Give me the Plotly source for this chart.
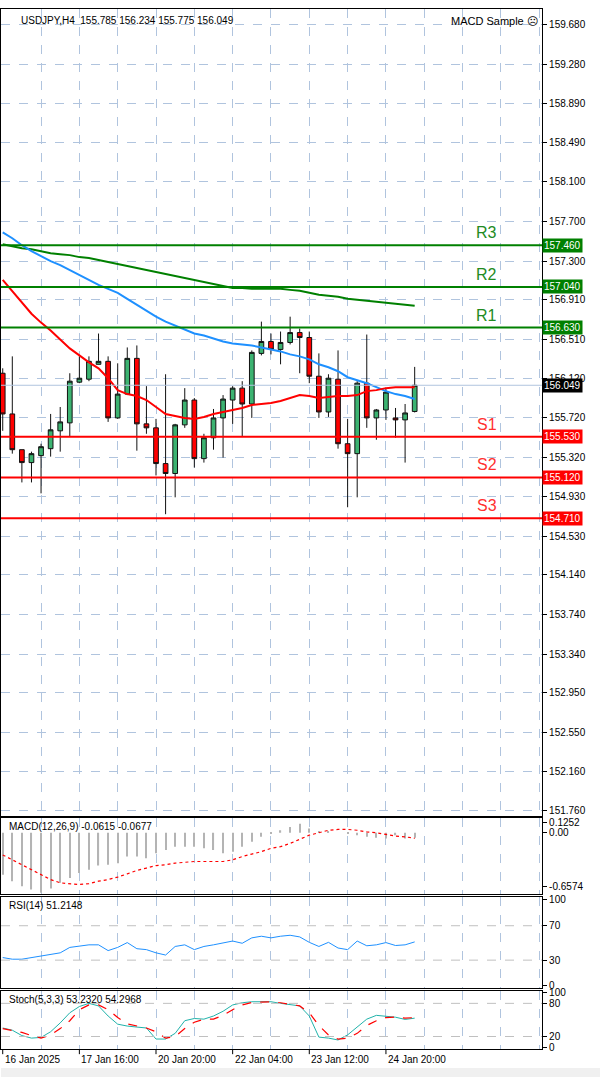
import plotly.graph_objects as go

# ---- data (H4 candles, oldest first) ----
opens = [156.17, 155.76, 155.40, 155.27, 155.34, 155.41, 155.59, 155.67, 156.08, 156.11,
         156.26, 156.29, 155.72, 155.96, 156.32, 155.66, 155.62, 155.26, 155.16, 155.65,
         155.90, 155.31, 155.52, 155.72, 155.90, 156.02, 155.86, 156.37, 156.49, 156.41,
         156.48, 156.58, 156.53, 156.14, 155.78, 156.11, 155.46, 155.36, 156.07, 155.72,
         155.80, 155.72, 155.70, 155.785]
highs = [156.22, 156.34, 155.40, 155.38, 155.46, 155.76, 155.83, 156.17, 156.34, 156.34,
         156.57, 156.34, 156.27, 156.43, 156.45, 156.04, 155.71, 156.16, 155.66, 156.02,
         155.92, 155.56, 155.81, 155.95, 156.04, 156.09, 156.40, 156.69, 156.57, 156.59,
         156.74, 156.62, 156.59, 156.37, 156.16, 156.40, 155.71, 156.09, 156.56, 155.81,
         156.01, 155.82, 155.86, 156.234]
lows = [155.59, 155.36, 155.07, 155.07, 154.96, 155.33, 155.38, 155.53, 156.07, 156.09,
        156.26, 155.68, 155.71, 155.95, 155.39, 155.56, 155.14, 154.75, 154.92, 155.62,
        155.22, 155.27, 155.40, 155.32, 155.66, 155.53, 155.72, 156.35, 156.36, 156.26,
        156.46, 156.17, 156.07, 155.72, 155.73, 155.41, 154.82, 154.92, 155.62, 155.50,
        155.70, 155.52, 155.27, 155.775]
closes = [155.76, 155.40, 155.27, 155.36, 155.43, 155.60, 155.68, 156.09, 156.12, 156.29,
          156.29, 155.72, 155.96, 156.32, 155.66, 155.62, 155.26, 155.16, 155.65, 155.90,
          155.31, 155.52, 155.72, 155.91, 156.02, 155.86, 156.38, 156.49, 156.41, 156.48,
          156.58, 156.53, 156.14, 155.78, 156.12, 155.46, 155.36, 156.07, 155.72, 155.80,
          155.98, 155.70, 155.77, 156.049]

ma_red = [157.11, 157.00, 156.88, 156.77, 156.68, 156.60, 156.51, 156.42, 156.35, 156.28,
          156.22, 156.12, 156.00, 155.96, 155.94, 155.90, 155.83, 155.76, 155.74, 155.72,
          155.71, 155.73, 155.76, 155.78, 155.80, 155.82, 155.85, 155.86, 155.87, 155.89,
          155.92, 155.95, 155.94, 155.92, 155.93, 155.94, 155.94, 155.95, 155.99, 156.00,
          156.02, 156.03, 156.03, 156.03]
ma_blue = [157.59, 157.53, 157.46, 157.40, 157.35, 157.30, 157.26, 157.21, 157.16, 157.11,
           157.06, 157.02, 156.98, 156.92, 156.86, 156.80, 156.74, 156.69, 156.65, 156.61,
           156.57, 156.55, 156.52, 156.49, 156.47, 156.46, 156.45, 156.43, 156.41, 156.39,
           156.36, 156.34, 156.31, 156.26, 156.23, 156.19, 156.13, 156.10, 156.07, 156.03,
           155.99, 155.96, 155.94, 155.91]
ma_green = [157.47, 157.45, 157.43, 157.42, 157.40, 157.38, 157.37, 157.36, 157.34, 157.33,
            157.31, 157.29, 157.27, 157.25, 157.23, 157.21, 157.19, 157.17, 157.15, 157.13,
            157.11, 157.09, 157.07, 157.05, 157.03, 157.03, 157.02, 157.02, 157.02, 157.02,
            157.01, 157.00, 156.98, 156.96, 156.95, 156.94, 156.92, 156.91, 156.90, 156.89,
            156.88, 156.87, 156.86, 156.85]

macd_hist = [-0.51, -0.59, -0.65, -0.69, -0.73, -0.68, -0.61, -0.55, -0.49, -0.45,
             -0.40, -0.39, -0.37, -0.29, -0.29, -0.31, -0.25, -0.21, -0.17, -0.17,
             -0.17, -0.19, -0.21, -0.25, -0.23, -0.17, -0.11, -0.05, -0.01, 0.03,
             0.07, 0.11, 0.05, 0.02, 0.01, 0.00, -0.01, -0.03, -0.05, -0.06,
             -0.07, -0.03, -0.07, -0.0615]
macd_signal = [-0.27, -0.33, -0.39, -0.45, -0.51, -0.57, -0.61, -0.62, -0.63, -0.62,
               -0.59, -0.57, -0.54, -0.50, -0.46, -0.43, -0.40, -0.39, -0.37, -0.36,
               -0.35, -0.35, -0.35, -0.35, -0.33, -0.29, -0.26, -0.23, -0.19, -0.17,
               -0.13, -0.08, -0.03, 0.00, 0.03, 0.04, 0.04, 0.03, 0.01, 0.00,
               -0.02, -0.04, -0.05, -0.0677]

rsi = [33.0, 31.1, 31.1, 33.0, 34.1, 36.7, 38.5, 44.8, 45.9, 47.8,
       47.8, 41.1, 44.8, 50.4, 43.3, 42.2, 38.5, 35.9, 45.9, 47.8,
       42.2, 45.9, 47.8, 49.6, 52.2, 49.6, 55.9, 57.8, 55.9, 57.8,
       58.9, 57.0, 50.7, 45.9, 50.7, 44.1, 42.2, 52.2, 46.7, 47.8,
       50.4, 47.0, 47.8, 51.2]

stoch_main = [35.4, 31.4, 21.7, 17.1, 18.3, 28.6, 44.6, 62.9, 74.3, 80.0,
              75.4, 57.1, 42.3, 38.9, 37.1, 35.4, 15.4, 15.4, 25.7, 48.6,
              52.6, 51.4, 57.1, 65.7, 77.1, 81.1, 82.9, 82.9, 82.9, 80.0,
              77.1, 75.4, 57.1, 18.9, 17.1, 13.7, 22.9, 37.1, 51.4, 58.3,
              56.6, 54.9, 50.9, 53.2]
stoch_signal = [34.3, 31.4, 27.4, 21.7, 17.1, 22.9, 34.3, 48.6, 68.6, 77.1,
                77.1, 68.6, 54.3, 42.9, 38.9, 35.4, 28.6, 17.1, 20.0, 34.3,
                45.7, 51.4, 51.4, 58.3, 68.6, 77.1, 81.7, 82.9, 82.9, 81.1,
                78.3, 75.4, 62.9, 40.0, 22.9, 15.4, 17.1, 25.7, 40.0, 48.6,
                54.3, 55.4, 53.1, 54.3]

levels = [157.46, 157.04, 156.63, 155.53, 155.12, 154.71]
level_names = ["R3", "R2", "R1", "S1", "S2", "S3"]
price_ticks = [159.680, 159.280, 158.890, 158.490, 158.100, 157.700, 157.300, 156.910,
               156.510, 156.120, 155.720, 155.320, 154.930, 154.530, 154.140, 153.740,
               153.340, 152.950, 152.550, 152.160, 151.760]
date_idx = [0, 8, 16, 24, 32, 40]
date_labels = ["16 Jan 2025", "17 Jan 16:00", "20 Jan 20:00", "22 Jan 04:00",
               "23 Jan 12:00", "24 Jan 20:00"]

W, H = 600, 1081
x = list(range(len(closes)))
XR = [-0.18, 56.3]
XD = [0, 542 / W]
GRID = "#b0c4de"


def dom(top, bottom):
    return [1 - bottom / H, 1 - top / H]


fig = go.Figure()
fig.add_trace(go.Candlestick(
    x=x, open=opens, high=highs, low=lows, close=closes,
    increasing=dict(fillcolor="#3cb371", line=dict(color="#111", width=1)),
    decreasing=dict(fillcolor="#ff0000", line=dict(color="#111", width=1)),
    whiskerwidth=0, xaxis="x", yaxis="y", showlegend=False))
for ma, c in [(ma_green, "#008000"), (ma_blue, "#1e90ff"), (ma_red, "#ff0000")]:
    fig.add_trace(go.Scatter(x=x, y=ma, mode="lines", line=dict(color=c, width=2),
                             xaxis="x", yaxis="y", showlegend=False))

fig.add_trace(go.Bar(x=x, y=macd_hist, marker=dict(color="#b4b4b4", line=dict(width=0)),
                     width=0.12, xaxis="x2", yaxis="y2", showlegend=False))
fig.add_trace(go.Scatter(x=x, y=macd_signal, mode="lines",
                         line=dict(color="#ff0000", width=1.2, dash="dot"),
                         xaxis="x2", yaxis="y2", showlegend=False))
fig.add_trace(go.Scatter(x=x, y=rsi, mode="lines", line=dict(color="#1e90ff", width=1),
                         xaxis="x3", yaxis="y3", showlegend=False))
fig.add_trace(go.Scatter(x=x, y=stoch_main, mode="lines", line=dict(color="#20b2aa", width=1),
                         xaxis="x4", yaxis="y4", showlegend=False))
fig.add_trace(go.Scatter(x=x, y=stoch_signal, mode="lines",
                         line=dict(color="#ff0000", width=1.2, dash="dash"),
                         xaxis="x4", yaxis="y4", showlegend=False))

xcommon = dict(range=XR, domain=XD, showticklabels=False, tickvals=list(range(4, 57, 4)),
               showgrid=True, gridcolor=GRID, griddash="dash", gridwidth=1,
               zeroline=False, showline=True, linecolor="black", mirror=True,
               rangeslider=dict(visible=False), fixedrange=True)
ycommon = dict(side="right", showline=True, linecolor="black", mirror=True, zeroline=False,
               ticks="outside", ticklen=4, tickcolor="black", tickfont=dict(size=10),
               showgrid=True, gridcolor=GRID, griddash="dash")

layout = dict(
    width=W, height=H, margin=dict(l=0, r=0, t=0, b=0),
    paper_bgcolor="white", plot_bgcolor="white",
    font=dict(family="Liberation Sans", size=10, color="black"),
    xaxis=dict(xcommon, anchor="y"),
    xaxis2=dict(xcommon, anchor="y2", matches="x"),
    xaxis3=dict(xcommon, anchor="y3", matches="x"),
    xaxis4=dict(xcommon, anchor="y4", matches="x"),
    yaxis=dict(ycommon, domain=dom(5, 818), range=[151.71, 159.84],
               tickvals=price_ticks, ticktext=[f"{p:.3f}" for p in price_ticks], anchor="x"),
    yaxis2=dict(ycommon, domain=dom(820, 897), range=[-0.75, 0.18], showgrid=False,
                tickvals=[0.1252, 0, -0.6574], ticktext=["0.1252", "0.00", "-0.6574"], anchor="x2"),
    yaxis3=dict(ycommon, domain=dom(900, 991), range=[-2, 103], showgrid=False,
                tickvals=[100, 70, 30, 0], anchor="x3"),
    yaxis4=dict(ycommon, domain=dom(994, 1053), range=[-3, 103], showgrid=False,
                tickvals=[100, 80, 20, 0], anchor="x4"),
)
fig.update_layout(**layout)

for v in [70, 30]:
    fig.add_shape(type="line", xref="x3", yref="y3", x0=XR[0], x1=XR[1], y0=v, y1=v,
                  line=dict(color="#c0c0c0", width=1, dash="dash"))
for v in [80, 20]:
    fig.add_shape(type="line", xref="x4", yref="y4", x0=XR[0], x1=XR[1], y0=v, y1=v,
                  line=dict(color="#c0c0c0", width=1, dash="dash"))

# bid line
fig.add_shape(type="line", xref="x", yref="y", x0=XR[0], x1=XR[1], y0=closes[-1], y1=closes[-1],
              line=dict(color="#b0c4de", width=1))

# support / resistance levels
for lv, name in zip(levels, level_names):
    col = "#008000" if name.startswith("R") else "#ff0000"
    fig.add_shape(type="line", xref="x", yref="y", x0=XR[0], x1=XR[1], y0=lv, y1=lv,
                  line=dict(color=col, width=2))
    fig.add_annotation(x=50.5, y=lv, xref="x", yref="y", text=name, showarrow=False,
                       yanchor="bottom", yshift=2,
                       font=dict(size=16, color="#228b22" if name.startswith("R") else "#ff3030"))
    fig.add_annotation(x=XD[1], y=lv, xref="paper", yref="y", text=f"{lv:.3f}",
                       showarrow=False, xanchor="left", bgcolor=col, borderpad=1,
                       font=dict(size=10, color="white"))
fig.add_annotation(x=XD[1], y=closes[-1], xref="paper", yref="y", text=f"{closes[-1]:.3f}",
                   showarrow=False, xanchor="left", bgcolor="black", borderpad=1,
                   font=dict(size=10, color="white"))

# titles
titles = [
    (0.03, 17, f"USDJPY,H4  {opens[-1]:.3f} {highs[-1]:.3f} {lows[-1]:.3f} {closes[-1]:.3f}", "left"),
    (0.9, 17, "MACD Sample ☹", "right"),
    (0.01, 829, f"MACD(12,26,9) {macd_hist[-1]:.4f} {macd_signal[-1]:.4f}", "left"),
    (0.01, 908, "RSI(14) 51.2148", "left"),
    (0.01, 1003, "Stoch(5,3,3) 53.2320 54.2968", "left"),
]
for tx, ty, txt, anc in titles:
    fig.add_annotation(x=tx, y=1 - ty / H, xref="paper", yref="paper", xanchor=anc,
                       yanchor="middle", text=txt, showarrow=False,
                       font=dict(size=11 if "Sample" in txt else 10))

# date labels under the bottom panel
for i, lab in zip(date_idx, date_labels):
    fig.add_annotation(x=i, y=1 - 1063 / H, xref="x4", yref="paper", xanchor="left",
                       yanchor="middle", text=lab, showarrow=False, font=dict(size=10))
    fig.add_shape(type="line", xref="x4", yref="paper", x0=i, x1=i,
                  y0=1 - 1053 / H, y1=1 - 1058 / H, line=dict(color="black", width=1))

fig.add_shape(type="rect", xref="paper", yref="paper", x0=0, x1=1, y0=0, y1=9 / H,
              fillcolor="#f0f0f0", line=dict(width=0))

fig.write_html("out.html", config={"displayModeBar": False},
               post_script="document.body.style.margin='0';document.body.style.overflow='hidden';")
